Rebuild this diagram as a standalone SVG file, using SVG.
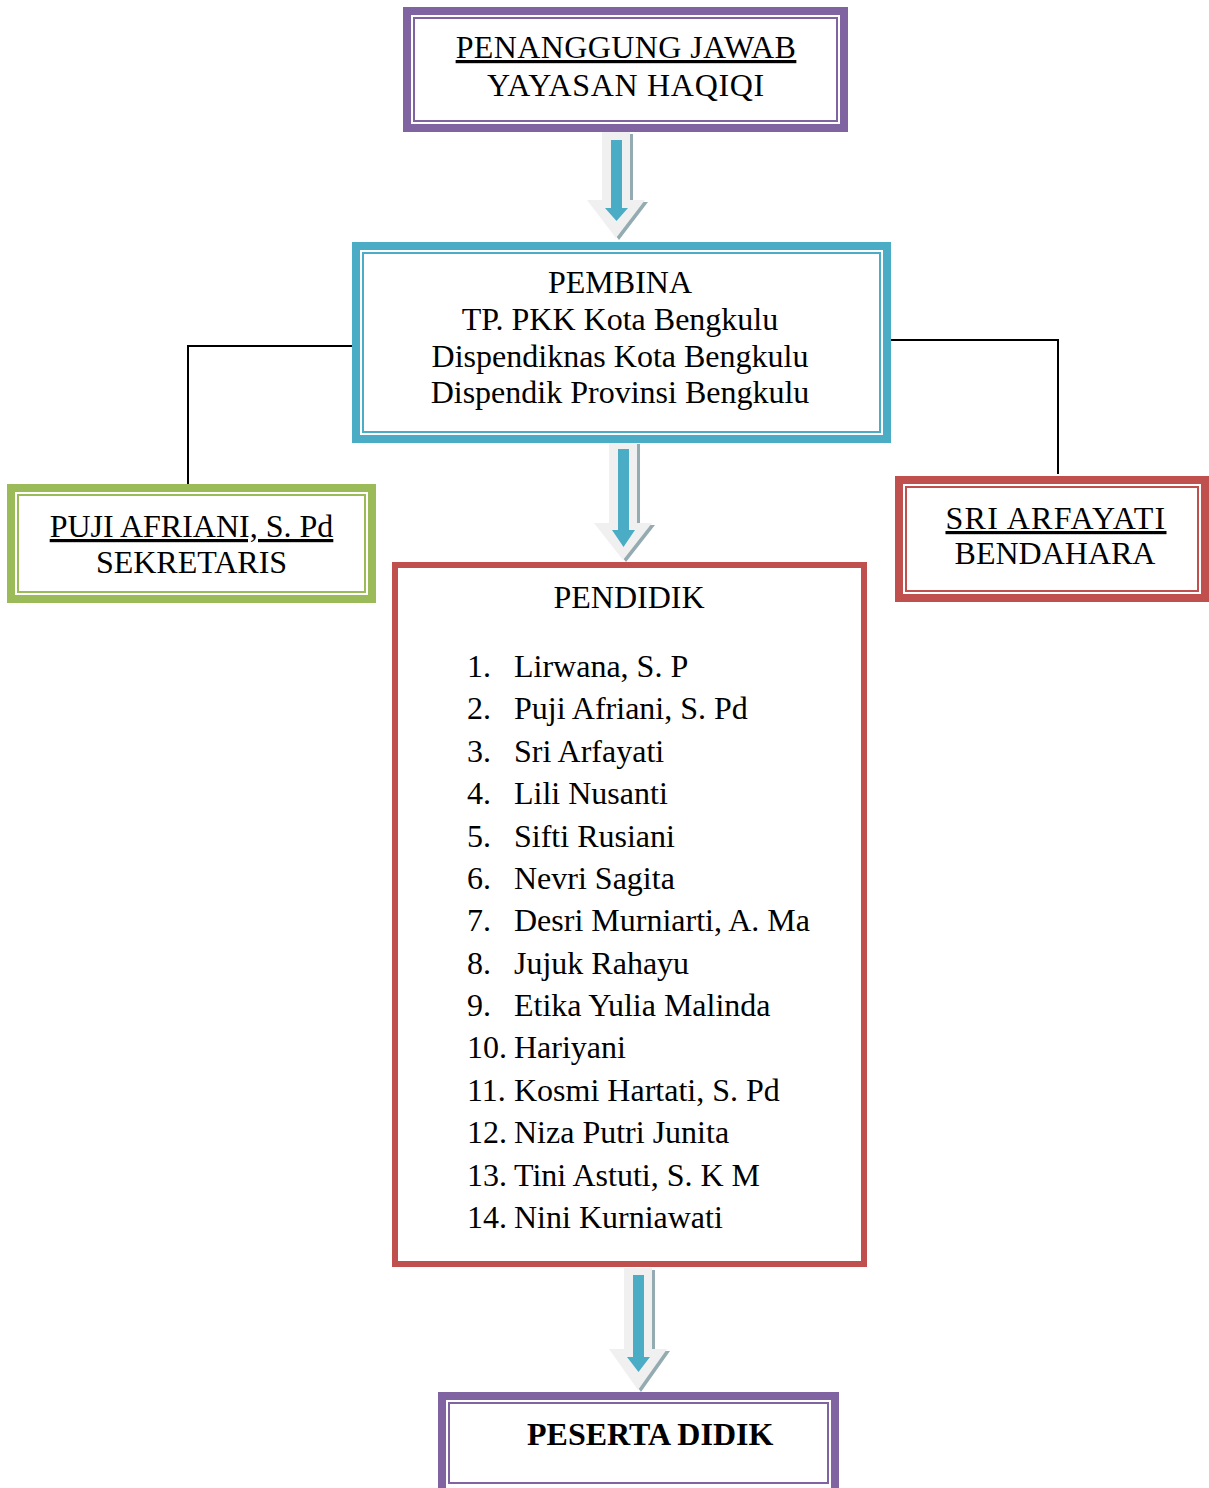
<svg xmlns="http://www.w3.org/2000/svg" width="1209" height="1488" viewBox="0 0 1209 1488">
<style>
text{font-family:"Liberation Serif","Times New Roman",serif;font-size:32px;fill:#000}
.c{text-anchor:middle}
.u{text-decoration:underline}
.b{font-weight:bold}
.band{fill:none;stroke-width:8}
.thin{fill:none;stroke-width:2}
.purple{stroke:#8064A2}
.cyan{stroke:#4BACC6}
.green{stroke:#9BBB59}
.red{stroke:#C0504D}
.conn{fill:none;stroke:#000;stroke-width:2}
.al{fill:#F0F0F0}
.as{fill:#94ABB2}
.ac{fill:#4BACC6}
</style>
<rect width="1209" height="1488" fill="#fff"/>
<g id="connectors">
  <polyline class="conn" points="352,346 188,346 188,484"/>
  <polyline class="conn" points="891,340 1058,340 1058,474"/>
  <g id="arrow1">
    <path class="as" d="M605,134 H633 V202 H648 L619,240 L590,202 H605 Z"/>
    <path class="al" d="M602,132 H630 V200 H645 L616,238 L587,200 H602 Z"/>
    <path class="ac" d="M611,140 H622 V208 H628 L616.5,221 L605,208 H611 Z"/>
  </g>
  <g id="arrow2">
    <path class="as" d="M612,444 H640 V525 H655 L626,562 L597,525 H612 Z"/>
    <path class="al" d="M609,442 H637 V523 H652 L623,560 L594,523 H609 Z"/>
    <path class="ac" d="M618,449 H629 V530 H635 L623.5,547 L612,530 H618 Z"/>
  </g>
  <g id="arrow3">
    <path class="as" d="M627,1270 H655 V1351 H670 L641,1392 L612,1351 H627 Z"/>
    <path class="al" d="M624,1268 H652 V1349 H667 L638,1390 L609,1349 H624 Z"/>
    <path class="ac" d="M633,1275 H644 V1357 H650 L638.5,1372 L627,1357 H633 Z"/>
  </g>
</g>
<g id="penanggung-jawab">
  <rect x="407" y="11" width="437" height="117" class="band purple"/>
  <rect x="414" y="18" width="423" height="103" class="thin purple"/>
  <text x="626" y="58" class="c u" letter-spacing="0.4">PENANGGUNG JAWAB</text>
  <text x="626" y="96" class="c" letter-spacing="0.7">YAYASAN HAQIQI</text>
</g>
<g id="pembina">
  <rect x="356" y="246" width="531" height="193" class="band cyan"/>
  <rect x="363" y="253" width="517" height="179" class="thin cyan"/>
  <text x="620" y="293" class="c">PEMBINA</text>
  <text x="620" y="330" class="c">TP. PKK Kota Bengkulu</text>
  <text x="620" y="367" class="c">Dispendiknas Kota Bengkulu</text>
  <text x="620" y="403" class="c">Dispendik Provinsi Bengkulu</text>
</g>
<g id="sekretaris">
  <rect x="11" y="488" width="361" height="111" class="band green"/>
  <rect x="18" y="495" width="347" height="97" class="thin green"/>
  <text x="191.5" y="537" class="c u">PUJI AFRIANI, S. Pd</text>
  <text x="191.5" y="573" class="c">SEKRETARIS</text>
</g>
<g id="bendahara">
  <rect x="899" y="480" width="306" height="118" class="band red"/>
  <rect x="906" y="487" width="292" height="104" class="thin red"/>
  <text x="1056" y="529" class="c u" letter-spacing="1.3">SRI ARFAYATI</text>
  <text x="1055" y="564" class="c">BENDAHARA</text>
</g>
<g id="pendidik">
  <rect x="395" y="565" width="469" height="699" fill="none" stroke="#C0504D" stroke-width="6"/>
  <text x="629" y="608" class="c">PENDIDIK</text>
  <text x="467" y="677">1.</text><text x="514" y="677">Lirwana, S. P</text>
  <text x="467" y="719.4">2.</text><text x="514" y="719.4">Puji Afriani, S. Pd</text>
  <text x="467" y="761.8">3.</text><text x="514" y="761.8">Sri Arfayati</text>
  <text x="467" y="804.1">4.</text><text x="514" y="804.1">Lili Nusanti</text>
  <text x="467" y="846.5">5.</text><text x="514" y="846.5">Sifti Rusiani</text>
  <text x="467" y="888.9">6.</text><text x="514" y="888.9">Nevri Sagita</text>
  <text x="467" y="931.3">7.</text><text x="514" y="931.3">Desri Murniarti, A. Ma</text>
  <text x="467" y="973.7">8.</text><text x="514" y="973.7">Jujuk Rahayu</text>
  <text x="467" y="1016">9.</text><text x="514" y="1016">Etika Yulia Malinda</text>
  <text x="467" y="1058.4">10.</text><text x="514" y="1058.4">Hariyani</text>
  <text x="467" y="1100.8">11.</text><text x="514" y="1100.8">Kosmi Hartati, S. Pd</text>
  <text x="467" y="1143.2">12.</text><text x="514" y="1143.2">Niza Putri Junita</text>
  <text x="467" y="1185.6">13.</text><text x="514" y="1185.6">Tini Astuti, S. K M</text>
  <text x="467" y="1228">14.</text><text x="514" y="1228">Nini Kurniawati</text>
</g>
<g id="peserta-didik">
  <rect x="442" y="1396" width="393" height="96" class="band purple"/>
  <rect x="449" y="1403" width="379" height="80" class="thin purple"/>
  <text x="527" y="1445" class="b">PESERTA DIDIK</text>
</g>
</svg>
